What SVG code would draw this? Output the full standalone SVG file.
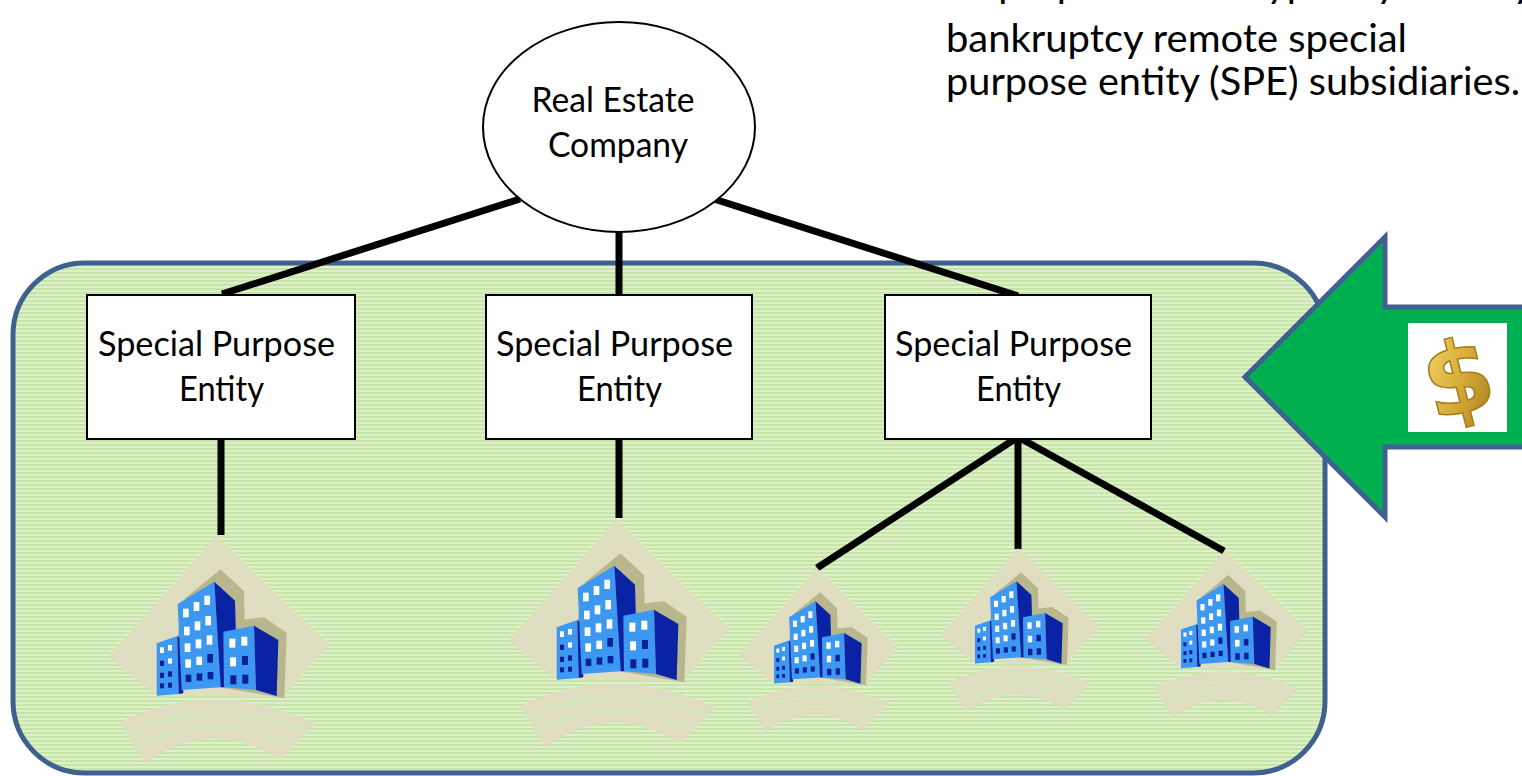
<svg xmlns="http://www.w3.org/2000/svg" width="1522" height="776" viewBox="0 0 1522 776">
<style>
.txt{font-family:Lato,"Liberation Sans",sans-serif;fill:#000}
.node{font-size:34px}
.cap{font-size:39px}
.box{fill:#fff;stroke:#000;stroke-width:2}
.conn{stroke:#000;stroke-width:7;stroke-linecap:butt;fill:none}
.lt{fill:#3D98F2}
.dk{fill:#0A23A5}
.ww{fill:#fff}
.wd{fill:#0B1F99}
</style>
<defs>
<pattern id="stripes" patternUnits="userSpaceOnUse" width="8" height="4">
<rect x="0" y="0" width="8" height="4" fill="#DDEFCB"/>
<rect x="0" y="0" width="8" height="2" fill="#C7E4A9"/>
</pattern>
<linearGradient id="gold" x1="0" y1="0" x2="1" y2="1">
<stop offset="0" stop-color="#F8E27A"/>
<stop offset="0.5" stop-color="#D9AE3A"/>
<stop offset="1" stop-color="#9C7416"/>
</linearGradient>
<symbol id="bldg" viewBox="0 0 690 720">
<polygon points="350,18 688,345 548,500 170,497 25,380" fill="#E0DEC1"/>
<path d="M 60,575 Q 350,440 648,582 L 540,690 Q 340,560 135,698 Z" fill="#E0DEC1"/>
<path d="M 75,615 Q 350,490 625,610" fill="none" stroke="#D2E9BA" stroke-width="7"/>
<path d="M 95,655 Q 345,530 590,650" fill="none" stroke="#D2E9BA" stroke-width="7"/>
<polygon points="255,205 362,118 432,184 434,268 492,262 560,308 553,505 350,470 200,480" fill="#B8B68C"/>
<polygon class="lt" points="170,340 232,318 236,492 170,497"/>
<polygon class="dk" points="232,318 246,326 250,490 236,492"/>
<rect class="ww" x="180" y="352" width="12" height="17"/>
<rect class="ww" x="204" y="345" width="12" height="17"/>
<rect class="wd" x="180" y="392" width="12" height="16"/>
<rect class="ww" x="204" y="385" width="12" height="16"/>
<rect class="wd" x="180" y="428" width="12" height="16"/>
<rect class="wd" x="204" y="424" width="12" height="16"/>
<rect class="wd" x="180" y="460" width="12" height="15"/>
<rect class="wd" x="204" y="458" width="12" height="15"/>
<polygon class="lt" points="233,222 343,155 362,472 245,480"/>
<polygon class="dk" points="343,155 405,212 412,470 362,472"/>
<rect class="ww" x="249" y="236" width="17" height="26"/>
<rect class="ww" x="281" y="216" width="17" height="27"/>
<rect class="ww" x="313" y="197" width="17" height="28"/>
<rect class="ww" x="252" y="290" width="17" height="26"/>
<rect class="ww" x="284" y="274" width="17" height="27"/>
<rect class="ww" x="316" y="258" width="17" height="28"/>
<rect class="ww" x="254" y="340" width="17" height="26"/>
<rect class="ww" x="287" y="328" width="17" height="27"/>
<rect class="ww" x="320" y="316" width="17" height="28"/>
<rect class="ww" x="256" y="388" width="17" height="25"/>
<rect class="ww" x="289" y="380" width="17" height="25"/>
<rect class="wd" x="322" y="372" width="17" height="26"/>
<rect class="wd" x="257" y="434" width="17" height="22"/>
<rect class="wd" x="290" y="430" width="17" height="22"/>
<rect class="wd" x="323" y="426" width="17" height="22"/>
<polygon class="lt" points="370,305 462,287 468,480 372,472"/>
<polygon class="dk" points="462,287 535,330 530,498 468,480"/>
<rect class="ww" x="388" y="326" width="18" height="27"/>
<rect class="ww" x="424" y="320" width="18" height="27"/>
<rect class="ww" x="390" y="382" width="18" height="27"/>
<rect class="wd" x="426" y="378" width="18" height="27"/>
<rect class="wd" x="391" y="436" width="18" height="27"/>
<rect class="wd" x="427" y="434" width="18" height="27"/>
</symbol>
</defs>

<g id="caption" class="txt cap">
<text x="946" y="-3" textLength="587" lengthAdjust="spacingAndGlyphs">Its properties are typically held by</text>
<text x="946" y="52" textLength="461" lengthAdjust="spacingAndGlyphs">bankruptcy remote special</text>
<text x="946" y="95" textLength="574" lengthAdjust="spacingAndGlyphs">purpose entity (SPE) subsidiaries.</text>
</g>

<g id="spe-group">
<rect x="13" y="263" width="1312" height="510" rx="72" ry="72" fill="url(#stripes)" stroke="#3F6190" stroke-width="5"/>
</g>

<g id="connectors" class="conn">
<line x1="520" y1="199" x2="222" y2="294"/>
<line x1="619" y1="230" x2="619" y2="295"/>
<line x1="714" y1="199" x2="1018" y2="296"/>
<line x1="221" y1="439" x2="221" y2="535"/>
<line x1="619" y1="439" x2="619" y2="518"/>
<line x1="1018" y1="437" x2="817" y2="568"/>
<line x1="1018" y1="437" x2="1018" y2="549"/>
<line x1="1018" y1="437" x2="1224" y2="551"/>
</g>

<g id="real-estate-company">
<ellipse cx="619" cy="127" rx="136" ry="105" fill="#fff" stroke="#000" stroke-width="2"/>
<text class="txt node" x="613" y="112" text-anchor="middle" textLength="163" lengthAdjust="spacingAndGlyphs">Real Estate</text>
<text class="txt node" x="618" y="157" text-anchor="middle" textLength="140" lengthAdjust="spacingAndGlyphs">Company</text>
</g>

<g id="spe-1">
<rect class="box" x="87" y="295" width="268" height="144"/>
<text class="txt node" x="216.5" y="356" text-anchor="middle" textLength="237" lengthAdjust="spacingAndGlyphs">Special Purpose</text>
<text class="txt node" x="221.5" y="401" text-anchor="middle" textLength="85" lengthAdjust="spacingAndGlyphs">Entity</text>
</g>
<g id="spe-2">
<rect class="box" x="486" y="295" width="266" height="144"/>
<text class="txt node" x="614.5" y="356" text-anchor="middle" textLength="237" lengthAdjust="spacingAndGlyphs">Special Purpose</text>
<text class="txt node" x="619.5" y="401" text-anchor="middle" textLength="85" lengthAdjust="spacingAndGlyphs">Entity</text>
</g>
<g id="spe-3">
<rect class="box" x="885" y="295" width="266" height="144"/>
<text class="txt node" x="1013.5" y="356" text-anchor="middle" textLength="237" lengthAdjust="spacingAndGlyphs">Special Purpose</text>
<text class="txt node" x="1018.5" y="401" text-anchor="middle" textLength="85" lengthAdjust="spacingAndGlyphs">Entity</text>
</g>

<g id="property-1"><use href="#bldg" x="100" y="530" width="230" height="240"/></g>
<g id="property-2"><use href="#bldg" x="500" y="514" width="230" height="240"/></g>
<g id="property-3"><use href="#bldg" x="733" y="564" width="166" height="173"/></g>
<g id="property-4"><use href="#bldg" x="934" y="544" width="166" height="173"/></g>
<g id="property-5"><use href="#bldg" x="1139" y="546" width="170" height="177"/></g>

<g id="funding-arrow">
<path d="M 1535,307 L 1385,307 L 1385,237 L 1245,377 L 1385,517 L 1385,447 L 1535,447 Z" fill="#00B050" stroke="#3F6190" stroke-width="5" stroke-linejoin="miter"/>
<rect x="1408" y="323" width="99" height="109" fill="#fff"/>
<text x="1458" y="413" text-anchor="middle" font-family="'DejaVu Sans',sans-serif" font-weight="bold" font-size="100" fill="url(#gold)" stroke="#A67C1A" stroke-width="1.5" transform="rotate(-14 1458 378)">$</text>
</g>
</svg>
